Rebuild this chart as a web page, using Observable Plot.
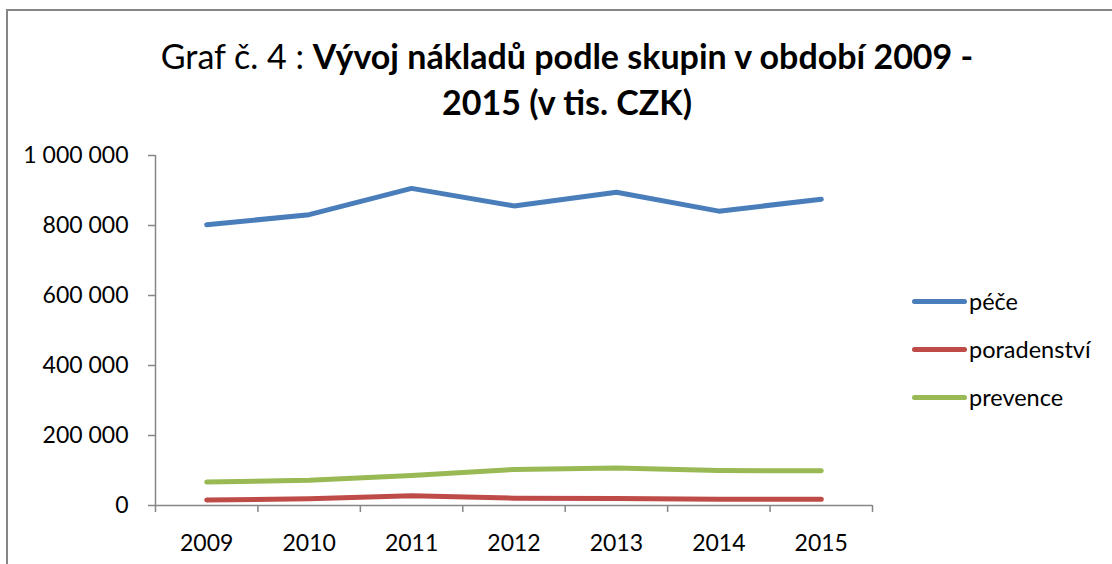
<!DOCTYPE html>
<html><head><meta charset="utf-8">
<script src="https://cdn.jsdelivr.net/npm/d3@7"></script>
<script src="https://cdn.jsdelivr.net/npm/@observablehq/plot@0.6"></script>
<style>
html,body{margin:0;padding:0;background:#fff;}
#wrap{position:relative;width:1112px;height:564px;overflow:hidden;font-family:Lato,"Open Sans",sans-serif;color:#000;}
#frame{position:absolute;left:6px;top:9px;width:1200px;height:600px;border:2px solid #868686;box-sizing:border-box;}
#title{position:absolute;left:0;top:33px;width:1134px;text-align:center;font-size:34px;line-height:46px;}
#title b{font-weight:700;}
#chart{position:absolute;left:0;top:140px;}
#legend{position:absolute;left:912px;top:0;}
.lg{position:absolute;left:0;height:30px;display:flex;align-items:center;white-space:nowrap;font-size:23.5px;}
.lg span.sw{display:inline-block;width:55px;height:5px;border-radius:3px;margin-right:2px;}
</style>
</head><body>
<div id="wrap">
  <div id="frame"></div>
  <div id="title">Graf č. 4 : <b>Vývoj nákladů podle skupin v období 2009 -<br>2015 (v tis. CZK)</b></div>
  <div id="chart"></div>
  <div id="legend"></div>
</div>
<script>
const years = [2009, 2010, 2011, 2012, 2013, 2014, 2015];
const pece = [802000, 831000, 906000, 856000, 895000, 841000, 875000];
const poradenstvi = [16000, 19000, 28000, 21000, 20000, 18000, 18000];
const prevence = [67000, 72000, 86000, 103000, 107000, 100000, 99000];
const seriesNames = ["péče", "poradenství", "prevence"];
const seriesValues = [pece, poradenstvi, prevence];
const colors = ["#4a7ebb", "#be4b48", "#98b954"];
const yTicks = [0, 200000, 400000, 600000, 800000, 1000000];

const data = [];
seriesNames.forEach((s, i) => years.forEach((y, j) => data.push({series: s, year: y, value: seriesValues[i][j]})));
const bounds = years.map(y => y - 0.5).concat([years[years.length - 1] + 0.5]);
const fmt = d => d3.format(",")(d).replace(/,/g, " ");

const chart = Plot.plot({
  width: 1112, height: 424,
  marginLeft: 155, marginRight: 240, marginTop: 15, marginBottom: 59,
  x: {domain: [bounds[0], bounds[bounds.length - 1]], axis: null, label: null},
  y: {domain: [0, 1000000], axis: null, label: null},
  color: {domain: seriesNames, range: colors},
  style: {fontFamily: 'Lato, "Open Sans", sans-serif', fontSize: "23px", color: "#000", background: "transparent"},
  marks: [
    Plot.axisY({ticks: yTicks, tickSize: 7, tickPadding: 20, tickFormat: fmt, stroke: "#868686", strokeWidth: 1.5, fill: "#000", label: null}),
    Plot.axisX({ticks: bounds, tickSize: 7, tickFormat: () => "", stroke: "#868686", strokeWidth: 1.5, label: null}),
    Plot.axisX({ticks: years, tickSize: 0, tickPadding: 29, tickFormat: d => String(d), fill: "#000", label: null}),
    Plot.ruleY([0], {stroke: "#868686", strokeWidth: 1.5}),
    Plot.ruleX([bounds[0]], {stroke: "#868686", strokeWidth: 1.5}),
    Plot.line(data, {x: "year", y: "value", z: "series", stroke: "series", strokeWidth: 5, strokeLinecap: "round", strokeLinejoin: "round"})
  ]
});
document.getElementById("chart").appendChild(chart);

const legend = document.getElementById("legend");
const rowTops = [286, 334, 382];
seriesNames.forEach((s, i) => {
  const row = document.createElement("div");
  row.className = "lg";
  row.style.top = rowTops[i] + "px";
  const sw = document.createElement("span");
  sw.className = "sw";
  sw.style.background = colors[i];
  row.appendChild(sw);
  row.appendChild(document.createTextNode(s));
  legend.appendChild(row);
});
</script>
</body></html>
